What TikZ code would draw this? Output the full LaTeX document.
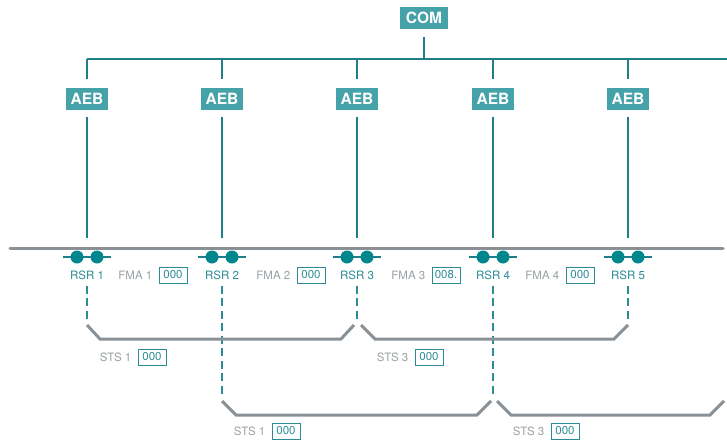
\documentclass[tikz,border=0pt]{standalone}
\usepackage{fontspec}
\setmainfont{TeX Gyre Heros}
\usetikzlibrary{positioning}
\definecolor{aebfill}{HTML}{45A2A9}
\definecolor{wire}{HTML}{1E7F88}
\definecolor{dotc}{HTML}{00868C}
\definecolor{busc}{HTML}{899196}
\definecolor{notec}{HTML}{9AA0A4}
\definecolor{tagc}{HTML}{2C8C95}
\newcommand{\Coupler}[1]{%
  \draw[wire] ([xshift=-24pt]#1) -- ([xshift=24pt]#1);
  \fill[dotc] ([xshift=-10pt]#1) circle (6.5pt) ([xshift=10pt]#1) circle (6.5pt);}
\tikzset{
  unit/.style={fill=aebfill, text=white, font=\bfseries\fontsize{15.5}{16}\selectfont,
    inner sep=0pt, minimum height=22pt, minimum width=42pt},
  wire/.style={draw=wire, line width=1.6pt},
  rsr/.style={text=tagc, font=\fontsize{11.5}{12}\selectfont, inner sep=1pt},
  note/.style={text=notec, font=\fontsize{11.5}{12}\selectfont, inner sep=1pt},
  val/.style={draw=tagc, text=tagc, line width=1pt, font=\fontsize{11.5}{12}\selectfont,
    inner sep=0pt, minimum width=28pt, minimum height=16pt},
  sectionline/.style={draw=tagc, line width=1.8pt, dash pattern=on 8pt off 4.5pt},
  span/.style={draw=busc, line width=3pt}
}
\begin{document}
\begin{tikzpicture}[x=1pt, y=-1pt, node distance=5pt]
    \useasboundingbox (0,0) rectangle (727,442);
    % control units
    \node[unit, minimum width=48pt] (COM) at (424,18) {COM};
    \node[unit] (AEB1) at (87,99) {AEB};
    \node[unit] (AEB2) at (222,99) {AEB};
    \node[unit] (AEB3) at (357,99) {AEB};
    \node[unit] (AEB4) at (493,99) {AEB};
    \node[unit] (AEB5) at (628,99) {AEB};
    \coordinate (top) at (87,59);
    \coordinate (topend) at (727,59);
    \draw[wire] ([yshift=-8pt]COM.south) -- (COM |- top);
    \draw[wire] (top) -- (topend);
    \draw[wire] (top) -- ([yshift=9pt]AEB1.north);
    \draw[wire] (AEB2 |- top) -- ([yshift=9pt]AEB2.north);
    \draw[wire] (AEB3 |- top) -- ([yshift=9pt]AEB3.north);
    \draw[wire] (AEB4 |- top) -- ([yshift=9pt]AEB4.north);
    \draw[wire] (AEB5 |- top) -- ([yshift=9pt]AEB5.north);
    % bus and couplers
    \coordinate (busL) at (10,248);
    \coordinate (busR) at (723,248);
    \draw[busc, line width=3pt, line cap=round] (busL) -- (busR);
    \coordinate (C1) at (87,257);
    \coordinate (C2) at (222,257);
    \coordinate (C3) at (357,257);
    \coordinate (C4) at (493,257);
    \coordinate (C5) at (628,257);
    \draw[wire] ([yshift=-7pt]AEB1.south) -- ([yshift=19pt]C1);
    \draw[wire] ([yshift=-7pt]AEB2.south) -- ([yshift=19pt]C2);
    \draw[wire] ([yshift=-7pt]AEB3.south) -- ([yshift=19pt]C3);
    \draw[wire] ([yshift=-7pt]AEB4.south) -- ([yshift=19pt]C4);
    \draw[wire] ([yshift=-7pt]AEB5.south) -- ([yshift=19pt]C5);
    \Coupler{C1} \Coupler{C2} \Coupler{C3} \Coupler{C4} \Coupler{C5}
    \node[rsr] (RSR1) at (87,275) {RSR 1};
    \node[rsr] (RSR2) at (222,275) {RSR 2};
    \node[rsr] (RSR3) at (357,275) {RSR 3};
    \node[rsr] (RSR4) at (493,275) {RSR 4};
    \node[rsr] (RSR5) at (628,275) {RSR 5};
    \node[val] (V1) at (173,275) {000};
    \node[note, left=of V1] (FMA1) {FMA 1};
    \node[val] (V2) at (311,275) {000};
    \node[note, left=of V2] (FMA2) {FMA 2};
    \node[val] (V3) at (446,275) {008.};
    \node[note, left=of V3] (FMA3) {FMA 3};
    \node[val] (V4) at (580,275) {000};
    \node[note, left=of V4] (FMA4) {FMA 4};
    % sections
    \coordinate (D1) at (87,319);
    \coordinate (D2) at (222,395);
    \coordinate (D3) at (357,319);
    \coordinate (D4) at (493,395);
    \coordinate (D5) at (628,319);
    \draw[sectionline] ([yshift=-5pt]RSR1.south) -- (D1);
    \draw[sectionline] ([yshift=-5pt]RSR2.south) -- (D2);
    \draw[sectionline] ([yshift=-5pt]RSR3.south) -- (D3);
    \draw[sectionline] ([yshift=-5pt]RSR4.south) -- (D4);
    \draw[sectionline] ([yshift=-5pt]RSR5.south) -- (D5);
    \draw[span] (87,325) -- (100,339) -- (341,339) -- (354,325);
    \draw[span] (361,325) -- (375,339) -- (614,339) -- (628,325);
    \draw[span] (222,401) -- (236,415) -- (477,415) -- (491,401);
    \draw[span] (497,401) -- (511,415) -- (710,415) -- (724,401);
    \node[val] (S1) at (152,357) {000};
    \node[note, left=of S1] (STS1) {STS 1};
    \node[val] (S2) at (429,357) {000};
    \node[note, left=of S2] (STS2) {STS 3};
    \node[val] (S3) at (286,431) {000};
    \node[note, left=of S3] (STS3) {STS 1};
    \node[val] (S4) at (565,431) {000};
    \node[note, left=of S4] (STS4) {STS 3};
\end{tikzpicture}
\end{document}
